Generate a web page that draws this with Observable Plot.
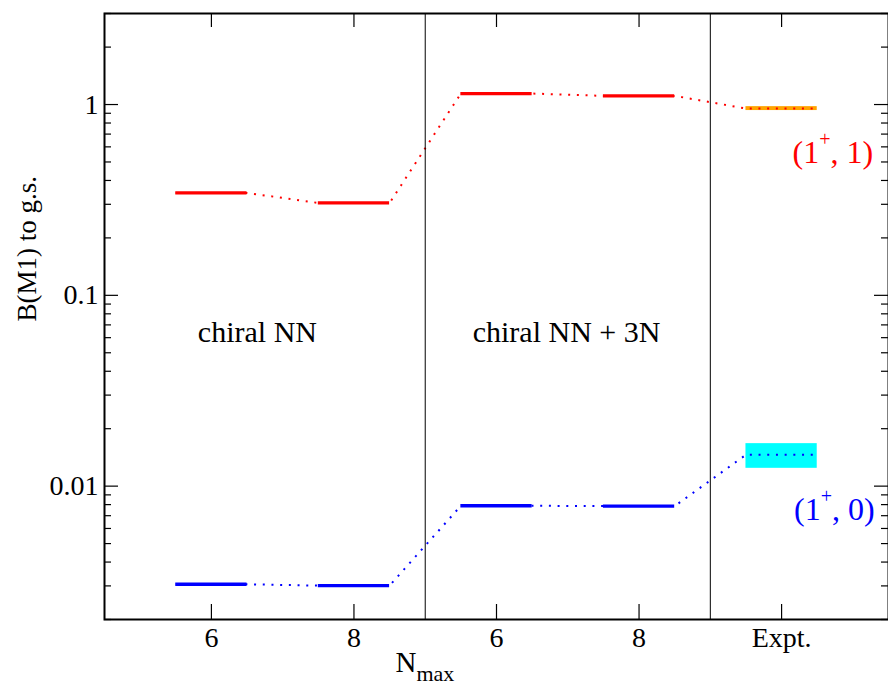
<!DOCTYPE html>
<html><head><meta charset="utf-8">
<script src="https://cdn.jsdelivr.net/npm/d3@7"></script>
<script src="https://cdn.jsdelivr.net/npm/@observablehq/plot@0.6"></script>
<style>html,body{margin:0;padding:0;background:#fff;overflow:hidden}</style>
</head><body><div id="chart"></div>
<script>
// ---- data ----
const categories = [1, 2, 3, 4, 5];
const tickLabels = ["6", "8", "6", "8", "Expt."];
const isovector = [0.344, 0.305, 1.142, 1.11, 0.953];      // (1+, 1) red
const isoscalar = [0.00306, 0.00301, 0.00789, 0.00786, 0.0146]; // (1+, 0) blue
const exptIsovectorBand = [0.93, 0.975];
const exptIsoscalarBand = [0.0124, 0.0167];
const separators = [2.5, 4.5];
const yMajor = [0.01, 0.1, 1];
const yMajorLabels = ["0.01", "0.1", "1"];
const yMinor = [0.002,0.003,0.004,0.005,0.006,0.007,0.008,0.009,
                0.02,0.03,0.04,0.05,0.06,0.07,0.08,0.09,
                0.2,0.3,0.4,0.5,0.6,0.7,0.8,0.9,2,3];
const regionLabels = ["chiral NN", "chiral NN + 3N"];
const regionX = [0.905, 2.833];
const regionY = [0.0572, 0.0572];
const stateLabels = ["(1+, 1)", "(1+, 0)"];
const stateX = [5.36, 5.37];
const stateY = [0.495, 0.00661];
const stateColors = ["#ff0000", "#0000ff"];
const yLabel = "B(M1) to g.s.";
const xLabel = "N_max";

// ---- layout ----
const W = 888, H = 685, mL = 104, mR = 0, mT = 13, mB = 66;
const plotW = W - mL - mR, plotH = H - mT - mB;
const half = 0.25;
const theoryIdx = [0, 1, 2, 3];
const FONT = "'Liberation Serif', 'Times New Roman', serif";

const barData = (vals) => theoryIdx.map(i => ({x1: categories[i] - half, x2: categories[i] + half, y: vals[i]}));
const pathData = (vals) => categories.flatMap((c, i) => [{x: c - half, y: vals[i]}, {x: c + half, y: vals[i]}]);
const bandData = (band) => [{x1: categories[4] - half, x2: categories[4] + half, y1: band[0], y2: band[1]}];

const dotStyle = {strokeWidth: 2, strokeDasharray: "2,6.7", strokeLinecap: "butt", strokeLinejoin: "miter"};
const chart = Plot.plot({
  width: W, height: H,
  marginLeft: mL, marginRight: mR, marginTop: mT, marginBottom: mB,
  x: {domain: [0.25, 5.75], axis: null},
  y: {type: "log", domain: [0.002, 3], axis: null},
  style: {fontFamily: FONT, background: "white", color: "black"},
  marks: [
    Plot.rect(bandData(exptIsovectorBand), {x1: "x1", x2: "x2", y1: "y1", y2: "y2", fill: "#ffa500"}),
    Plot.rect(bandData(exptIsoscalarBand), {x1: "x1", x2: "x2", y1: "y1", y2: "y2", fill: "#00ffff"}),
    Plot.line(pathData(isovector), {x: "x", y: "y", stroke: "#ff0000", ...dotStyle}),
    Plot.line(pathData(isoscalar), {x: "x", y: "y", stroke: "#0000ff", ...dotStyle}),
    Plot.ruleY(barData(isovector), {x1: "x1", x2: "x2", y: "y", stroke: "#ff0000", strokeWidth: 3.3}),
    Plot.ruleY(barData(isoscalar), {x1: "x1", x2: "x2", y: "y", stroke: "#0000ff", strokeWidth: 3.3}),
    Plot.ruleX(separators, {x: d => d, stroke: "black", strokeWidth: 1}),
    Plot.frame({stroke: "black", strokeWidth: 2}),
    // y ticks left & right
    Plot.ruleY(yMajor, {y: d => d, insetRight: plotW - 14, stroke: "black", strokeWidth: 1.2}),
    Plot.ruleY(yMinor, {y: d => d, insetRight: plotW - 7, stroke: "black", strokeWidth: 1.2}),
    Plot.ruleY(yMajor, {y: d => d, insetLeft: plotW - 14, stroke: "black", strokeWidth: 1.2}),
    Plot.ruleY(yMinor, {y: d => d, insetLeft: plotW - 7, stroke: "black", strokeWidth: 1.2}),
    // x ticks bottom & top
    Plot.ruleX(categories, {x: d => d, insetTop: plotH - 15, stroke: "black", strokeWidth: 1.2}),
    Plot.ruleX(categories, {x: d => d, insetBottom: plotH - 14, stroke: "black", strokeWidth: 1.2}),
    // tick labels
    Plot.text(yMajor, {y: d => d, text: (d, i) => yMajorLabels[i], frameAnchor: "left", textAnchor: "end", dx: -6, fontSize: 28, fontFamily: FONT, fill: "black"}),
    Plot.text(categories, {x: d => d, text: (d, i) => tickLabels[i], frameAnchor: "bottom", lineAnchor: "top", dy: 8, fontSize: 28, fontFamily: FONT, fill: "black"}),
    // axis titles
    Plot.text([yLabel], {text: d => d, frameAnchor: "left", rotate: -90, dx: -77.5, dy: 5, fontSize: 27, fontFamily: FONT, fill: "black"}),
    Plot.text([xLabel], {text: d => d, frameAnchor: "bottom-left", textAnchor: "start", lineAnchor: "bottom", dx: 291, dy: 52, fontSize: 29, fontFamily: FONT, fill: "black"}),
    // annotations
    Plot.text(regionLabels, {x: (d, i) => regionX[i], y: (d, i) => regionY[i], text: d => d, textAnchor: "start", lineAnchor: "bottom", fontSize: 30, fontFamily: FONT, fill: "black"}),
    Plot.text(stateLabels, {x: (d, i) => stateX[i], y: (d, i) => stateY[i], text: d => d, lineAnchor: "bottom", fontSize: 32, fontFamily: FONT, fill: (d, i) => stateColors[i]})
  ]
});

// typographic post-processing (superscripts / subscripts)
d3.select(chart).selectAll("text").each(function () {
  const t = this.textContent;
  const sel = d3.select(this);
  if (t === "(1+, 1)" || t === "(1+, 0)") {
    const rest = t.slice(3);
    sel.text(null);
    sel.append("tspan").text("(1");
    sel.append("tspan").attr("font-size", 20).attr("dy", -17).text("+");
    sel.append("tspan").attr("dy", 17).text(rest);
  } else if (t === "N_max") {
    sel.text(null);
    sel.append("tspan").text("N");
    sel.append("tspan").attr("font-size", 22).attr("dy", 9).text("max");
  }
});
document.getElementById("chart").appendChild(chart);
</script>
</body></html>
